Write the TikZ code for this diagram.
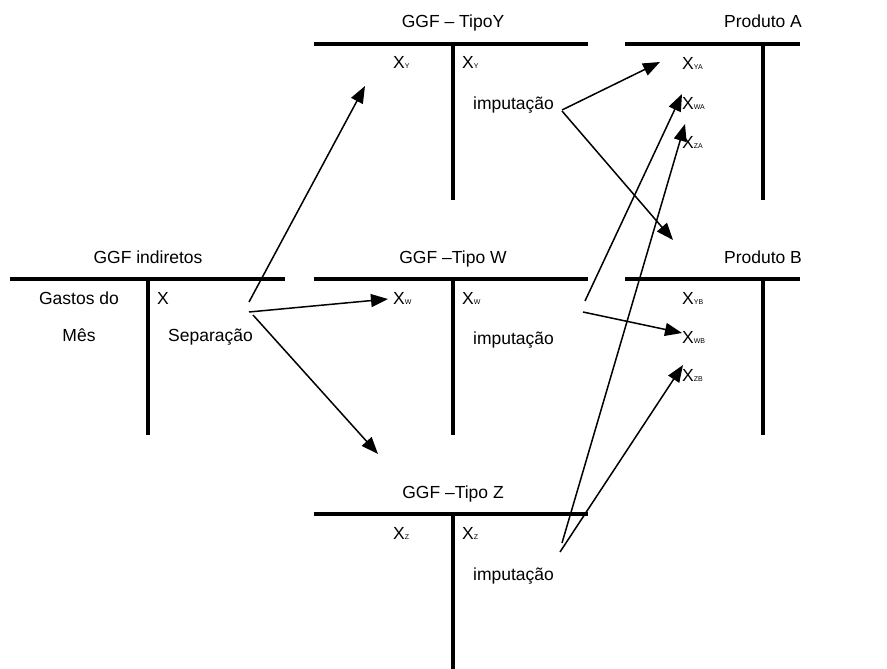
\documentclass[tikz,border=0pt]{standalone}
\usepackage{fontspec}
\setmainfont{Liberation Sans}
\usetikzlibrary{arrows.meta}

% small subscript letters set right after a capital X
\newcommand{\subx}[1]{X{\fontsize{7}{8}\selectfont #1}}

\tikzset{
  tbar/.style={line width=4pt},
  title/.style={anchor=base, inner sep=0pt, font=\fontsize{17.5}{20}\selectfont},
  lbl/.style={anchor=base west, inner sep=0pt, font=\fontsize{17.5}{20}\selectfont},
  clbl/.style={anchor=base, inner sep=0pt, font=\fontsize{17.5}{20}\selectfont},
  flow/.style={line width=1.5pt, -{Triangle[length=17pt,width=13pt]}}
}

\begin{document}
\begin{tikzpicture}[x=1pt,y=-1pt]
\useasboundingbox (0,0) rectangle (887,669);

% ---- T-account: GGF indiretos ----
\draw[tbar] (10,279) -- (285,279);
\draw[tbar] (148,279) -- (148,435);
\node[title] (tInd) at (148,263) {GGF indiretos};
\node[clbl] (gastos) at (79,304.5) {Gastos do};
\node[clbl] (mes) at (79,341.5) {Mês};
\node[lbl] (xInd) at (157,304.5) {X};
\node[lbl] (sep) at (168,341.5) {Separação};

% ---- T-account: GGF - Tipo Y ----
\draw[tbar] (314,44) -- (588,44);
\draw[tbar] (453,44) -- (453,200);
\node[title] (tY) at (453,28) {GGF – TipoY};
\node[lbl] (yL) at (393,68.5) {\subx{Y}};
\node[lbl] (yR) at (462,68.5) {\subx{Y}};
\node[lbl] (impY) at (473,110) {imputação};

% ---- T-account: GGF - Tipo W ----
\draw[tbar] (314,279) -- (588,279);
\draw[tbar] (453,279) -- (453,435);
\node[title] (tW) at (453,263) {GGF –Tipo W};
\node[lbl] (wL) at (393,304.5) {\subx{W}};
\node[lbl] (wR) at (462,304.5) {\subx{W}};
\node[lbl] (impW) at (473,344) {imputação};

% ---- T-account: GGF - Tipo Z ----
\draw[tbar] (314,514) -- (588,514);
\draw[tbar] (453,514) -- (453,669);
\node[title] (tZ) at (453,498) {GGF –Tipo Z};
\node[lbl] (zL) at (393,539.5) {\subx{Z}};
\node[lbl] (zR) at (462,539.5) {\subx{Z}};
\node[lbl] (impZ) at (473,580) {imputação};

% ---- T-account: Produto A ----
\draw[tbar] (625,44) -- (800,44);
\draw[tbar] (763,44) -- (763,200);
\node[title] (tA) at (763,28) {Produto A};
\node[lbl] (ya) at (682,69.5) {\subx{YA}};
\node[lbl] (wa) at (682,109.5) {\subx{WA}};
\node[lbl] (za) at (682,148.5) {\subx{ZA}};

% ---- T-account: Produto B ----
\draw[tbar] (625,279) -- (800,279);
\draw[tbar] (763,279) -- (763,435);
\node[title] (tB) at (763,263) {Produto B};
\node[lbl] (yb) at (682,304.5) {\subx{YB}};
\node[lbl] (wb) at (682,343.5) {\subx{WB}};
\node[lbl] (zb) at (682,381.5) {\subx{ZB}};

% ---- arrow end points ----
\coordinate (sepUp)   at (249,302);
\coordinate (sepMid)  at (249,312);
\coordinate (sepDown) at (253,315);
\coordinate (toY)     at (365,86);
\coordinate (toW)     at (388,299);
\coordinate (toZ)     at (378,454);

\coordinate (impYa) at (562,110);
\coordinate (impYb) at (562,111);
\coordinate (impWa) at (585,301);
\coordinate (impWb) at (583,312);
\coordinate (impZa) at (562,543);
\coordinate (impZb) at (560,552);

\coordinate (inYA) at (660,62);
\coordinate (inB)  at (673,240);
\coordinate (inWA) at (682,94);
\coordinate (inWB) at (682,333);
\coordinate (inZA) at (685,124);
\coordinate (inZB) at (683,365);

% ---- separation of the indirect costs ----
\draw[flow] (sepUp) -- (toY);
\draw[flow] (sepMid) -- (toW);
\draw[flow] (sepDown) -- (toZ);

% ---- allocation to the products ----
\draw[flow] (impYa) -- (inYA);
\draw[flow] (impYb) -- (inB);
\draw[flow] (impWa) -- (inWA);
\draw[flow] (impWb) -- (inWB);
\draw[flow] (impZa) -- (inZA);
\draw[flow] (impZb) -- (inZB);
\end{tikzpicture}
\end{document}
